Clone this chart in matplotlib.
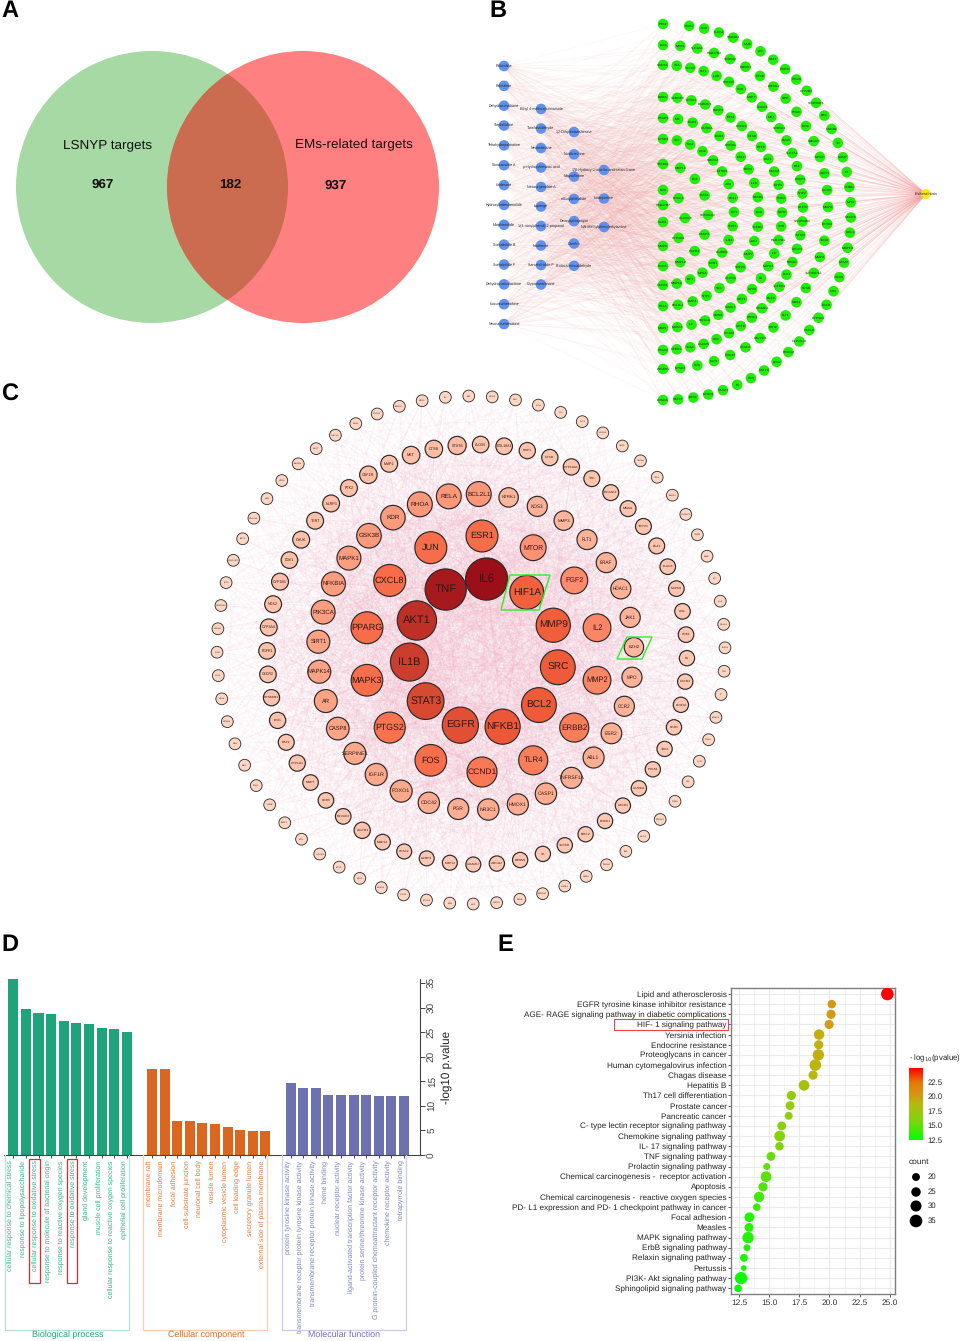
import numpy as np
import matplotlib
matplotlib.use("Agg")
import matplotlib.pyplot as plt
from matplotlib.patches import Circle, Polygon, Rectangle
from matplotlib.collections import LineCollection, PatchCollection
from matplotlib.colors import LinearSegmentedColormap
from matplotlib.transforms import ScaledTranslation

plt.rcParams['font.family'] = ['Liberation Sans', 'DejaVu Sans']
plt.rcParams['text.hinting'] = 'no_hinting'

W, H = 962, 1341

# ---------- Panel A data ----------
venn_labels = ["LSNYP targets", "EMs-related targets"]
venn_counts = [967, 182, 937]

# ---------- Panel B data ----------
compounds_1 = ["Rotundine", "Palmatine", "Dehydrocorydaline", "Stepholidine", "Tetrahydropalmatine",
               "Sinoracutine A", "Linderane", "Hydroxylindestrenolide", "Morphenolide", "Sonodiolide B",
               "Sonodiolide F", "Dehydrocostuslactone", "Isocurcumenolone", "Neocurcumenolone"]
compounds_2 = ["Ethyl 4-methoxycinnamate", "Tanshinaldehyde", "Neolinderane", "p-Hydroxybenzoic acid",
               "Neocurgenolide A", "Lupenge", "1-(4-nonylphenol)-2-propanol", "Nuciferine",
               "Sarcandrolide P", "Cryptotanshinone"]
compounds_3 = ["1,2-Dihydrotanshinone", "Nordicentrine", "Magnoflorine", "n-Butylphthalide",
               "Deoxyophiopogon", "Canthin", "Protocatechualdehyde"]
compounds_4 = ["17\u03b2-Hydroxy-2-oxa-5\u03b1-androstan-3-one", "Isoaspartine", "N,N-Methylphenylethylamine"]
targets_arcs = [
    ["PTK2", "EGR1", "PGR", "KLKB1", "HSD3B1", "MME", "AR", "RAF1", "PTAFR", "PTGIS", "CYP2B1", "SERPINE1",
     "BAX", "GSK3B", "TH", "COMT", "F3", "SHBG", "MPO", "CXCR3", "ABL1", "MMP10", "MCM2", "KRAS", "FTO",
     "EGFR", "CYP3A4", "CXCL8", "CYP2C19", "NDRG2", "LCN2", "CSF1R", "DBH", "F5", "CASP1", "CCND1", "ESR1",
     "STAT3", "EDNRA"],
    ["AAS", "MMP1", "SLC6A4", "HSD17B2", "SRD5A2", "HMOX1", "CTSB", "ABCG2", "LIPE", "CHUK", "IDO1",
     "HMGCR", "MPO2", "STAT1", "ACHE", "MMP3", "EPHX2", "TKOR", "MMP2", "TNFRSF1A", "HPSE", "NOS3", "FLT1",
     "EZH2", "HAVCR1", "VEGFA", "CDC42", "GLP1", "SRC", "HPSE2", "PTGER2"],
    ["SOCS3", "TSA", "IGF1R", "FLT1", "IL4R", "PRKCB", "KDR", "MAPT", "HDAC6", "MET", "SRD5A1", "FMAK",
     "SLC7A1", "RAF", "ERAP1", "SHP2", "SETD7", "SERPINB4", "MTOR", "APLP2", "NR4A1", "PLK1", "TGFBR1",
     "FGF3", "EIF2AK1", "NR3C1", "ACTB", "EPHA2", "LOX", "ALOX5", "TGS1", "GFBR1", "PTGS2"],
    ["RORA", "GABRB3", "EPHX1", "PGRMC1", "NLRP3", "ETS1", "CXCR1", "CTSD", "CETP", "CSF1", "CALCA",
     "GYPA", "CDK2", "ESR2", "VDR", "HSD17B1", "IL6", "MAPK1", "F8", "GPX8", "SIRT1", "HDAC7", "LMNA",
     "PIK3CA", "IL2", "MAPK3", "MMP1"],
    ["PTGES", "MIF", "EGR2", "AURKA", "EGR3", "PPARG", "CSF2", "ESR3", "IL1B", "NFKB1", "CCK", "TGFB1",
     "JAK1", "MMP7", "TOP2A", "ALDH1", "SYK", "SHP1", "BMP4", "BCL2L1", "RELA"],
    ["HPSE3", "TNF", "TYK2", "ADA", "HMOX2", "MTNR1", "JUN", "BCL2", "IGF1", "CHIT1", "TLR4", "AURKB",
     "CCR1", "MPSA", "IRF1", "MMP13", "CXCR4"],
    ["NFKBIA", "MMP14", "EGF", "IRAK1", "PPARGC1", "CASP3", "EGFR4", "MMP12", "RHOA"],
    ["FOS", "HDAC3", "ALOX15", "CYP3A5", "MMP9"],
    ["HSD17B7", "TGM2"],
]
disease = "Endometriosis"

# ---------- Panel C data (names clockwise from the top, with estimated degree) ----------
ring1 = ["IL6", "HIF1A", "MMP9", "SRC", "BCL2", "NFKB1", "EGFR", "STAT3", "IL1B", "AKT1", "TNF"]
deg1 = [113, 87, 88, 90, 90, 91, 94, 96, 100, 104, 110]
ring2 = ["ESR1", "MTOR", "FGF2", "IL2", "MMP2", "ERBB2", "TLR4", "CCND1", "FOS", "PTGS2", "MAPK3", "PPARG",
         "CXCL8", "JUN"]
deg2 = [81, 62, 65, 68, 68, 72, 72, 75, 80, 78, 80, 81, 81, 81]
ring3 = ["BCL2L1", "NTRK1", "NOS3", "MMP3", "FLT1", "BRAF", "HDAC1", "JAK1", "EZH2", "MPO", "CCR2", "ESR2",
         "ABL1", "TNFRSF1A", "CASP1", "HMOX1", "NR3C1", "PGR", "CDC42", "FOXO1", "IGF1R", "SERPINE1", "CASP8",
         "AR", "MAPK14", "SIRT1", "PIK3CA", "NFKBIA", "MAPK1", "GSK3B", "KDR", "RHOA", "RELA"]
deg3 = [59, 42, 44, 42, 44, 44, 44, 44, 42, 44, 44, 46, 47, 47, 48, 47, 48, 47, 48, 50, 50, 50, 52, 53, 53, 53,
        56, 56, 56, 58, 58, 59, 59]
ring4 = ["ALOX5", "COL18A1", "NRP1", "CTSD", "CYP19A1", "TEK", "EIF2AK4", "MMAA", "TRPV1", "FGF1", "ELANE",
         "MAPK8", "ASL", "CD69", "F3", "CXCR3", "KDM1A", "CCR1", "TRK2", "PTGS1", "AURKA", "CXCR1", "ROCK1",
         "BIRC2", "TGFBR", "TH", "OPRM1", "ABCG2", "ADAM17", "MMP14", "IGFBP3", "HDAC2", "MMP12", "AGTR1",
         "EIF2AK3", "CCR5", "MMP7", "CYP1A1", "RAF1", "IDO1", "RPS6KB1", "CXCR2", "FGFR1", "CYP3A4", "NOS2",
         "CYP1B1", "CDK1", "CHUK", "TERT", "NLRP3", "PTK2", "CSF1R", "MMP1", "MET", "CTSB", "STAT6"]
deg4 = [33, 33, 32, 32, 32, 31, 31, 31, 31, 31, 30, 30, 30, 30, 29, 29, 29, 29, 29, 29, 29, 29, 29, 29, 29, 29,
        29, 29, 28, 28, 28, 28, 30, 32, 30, 30, 30, 32, 31, 32, 32, 33, 33, 34, 34, 34, 33, 34, 34, 34, 34, 36,
        34, 36, 36, 38]
ring5 = ["MIF", "COMT", "SYK", "ADA", "LPL", "AGT", "HPGDS", "IL1R1", "GSK3A", "CTSL", "ERAP1", "AKR1C3", "ICAM1",
         "MME", "KIT", "ALK", "NR1H3", "LTA4H", "TTR", "TF", "KDM5A", "TGM2", "ALT1", "F10", "TYMS", "NFE2L2",
         "MAOA", "FN1", "FBXW7", "MMP8", "LAMB1", "SRD5A2", "RXRA", "HSPA5", "HIF1", "CFB", "SOCS1", "ARG1",
         "CCNA2", "CDK2", "SOX2", "ACKR3", "HCK", "BIRC5", "CYBB", "ETS2", "BAX", "DBH", "CCNB1", "CDK4",
         "GYS1", "ADK", "HSD3B", "HSD11B1", "FLT4", "HSD17B3", "SRT1", "CDC25A", "HAR", "CCR8", "SMAD3", "MAPT",
         "ABCC1", "CNR1", "SOCS3", "PRKCD", "DRD2", "F2"]
deg5 = [18] * len(ring5)
green_boxes = ["HIF1A", "EZH2"]

# ---------- Panel D data ----------
bp_terms = ["cellular response to chemical stress", "response to lipopolysaccharide",
            "cellular response to oxidative stress", "response to molecule of bacterial origin",
            "response to reactive oxygen species", "response to oxidative stress", "gland development",
            "muscle cell proliferation", "cellular response to reactive oxygen species",
            "epithelial cell proliferation"]
bp_vals = [35.7, 29.6, 28.8, 28.7, 27.3, 26.9, 26.7, 25.9, 25.7, 25.0]
cc_terms = ["membrane raft", "membrane microdomain", "focal adhesion", "cell-substrate junction",
            "neuronal cell body", "vesicle lumen", "cytoplasmic vesicle lumen", "cell leading edge",
            "secretory granule lumen", "external side of plasma membrane"]
cc_vals = [17.5, 17.4, 7.0, 6.85, 6.6, 6.3, 5.6, 5.0, 4.95, 4.9]
mf_terms = ["protein tyrosine kinase activity", "transmembrane receptor protein tyrosine kinase activity",
            "transmembrane receptor protein kinase activity", "heme binding", "nuclear receptor activity",
            "ligand-activated transcription factor activity", "protein serine/threonine kinase activity",
            "G protein-coupled chemoattractant receptor activity", "chemokine receptor activity",
            "tetrapyrrole binding"]
mf_vals = [14.7, 13.7, 13.6, 12.3, 12.15, 12.15, 12.15, 11.9, 11.9, 11.9]
d_ticks = [0, 5, 10, 15, 20, 25, 30, 35]
group_names = ["Biological process", "Cellular component", "Molecular function"]

# ---------- Panel E data ----------
kegg_terms = ["Lipid and atherosclerosis", "EGFR tyrosine kinase inhibitor resistance",
              "AGE- RAGE signaling pathway in diabetic complications", "HIF- 1 signaling pathway",
              "Yersinia infection", "Endocrine resistance", "Proteoglycans in cancer",
              "Human cytomegalovirus infection", "Chagas disease", "Hepatitis B", "Th17 cell differentiation",
              "Prostate cancer", "Pancreatic cancer", "C- type lectin receptor signaling pathway",
              "Chemokine signaling pathway", "IL- 17 signaling pathway", "TNF signaling pathway",
              "Prolactin signaling pathway", "Chemical carcinogenesis -  receptor activation", "Apoptosis",
              "Chemical carcinogenesis -  reactive oxygen species",
              "PD- L1 expression and PD- 1 checkpoint pathway in cancer", "Focal adhesion", "Measles",
              "MAPK signaling pathway", "ErbB signaling pathway", "Relaxin signaling pathway", "Pertussis",
              "PI3K- Akt signaling pathway", "Sphingolipid signaling pathway"]
kegg_log = [24.8, 20.19, 20.13, 19.97, 19.14, 19.11, 19.08, 18.83, 18.64, 17.89, 16.84, 16.73, 16.62, 16.04, 15.87,
            15.85, 15.15, 14.8, 14.74, 14.49, 14.16, 13.97, 13.36, 13.33, 13.25, 13.16, 12.91, 12.89, 12.67, 12.42]
kegg_count = [35, 22, 24, 24, 28, 24, 31, 32, 24, 29, 24, 23, 20, 23, 29, 22, 23, 17, 29, 24, 28, 19, 26, 23, 31,
              17, 20, 13, 34, 19]
e_xticks = [12.5, 15.0, 17.5, 20.0, 22.5, 25.0]
cbar_ticks = [12.5, 15.0, 17.5, 20.0, 22.5]
count_legend = [20, 25, 30, 35]


def px_axes(fig, left, top, right, bottom, **kw):
    return fig.add_axes([left / W, 1 - bottom / H, (right - left) / W, (bottom - top) / H], **kw)


fig = plt.figure(figsize=(W / 100, H / 100), dpi=100, facecolor='white')

# ==================== Panel D ====================
GREEN, ORANGE, PURPLE = '#1ea37a', '#da6620', '#6d71b0'
axd = px_axes(fig, 4, 979, 420, 1155)
axd.patch.set_alpha(0)
pos = [np.arange(10), np.arange(10) + 11, np.arange(10) + 22]
all_pos, all_lab, all_col = [], [], []
for p, v, t, c in zip(pos, [bp_vals, cc_vals, mf_vals], [bp_terms, cc_terms, mf_terms], [GREEN, ORANGE, PURPLE]):
    axd.bar(p, v, width=0.8, color=c)
    all_pos += list(p)
    all_lab += t
    all_col += [c] * 10
axd.yaxis.tick_right()
axd.yaxis.set_label_position('right')
axd.set_yticks(d_ticks)
axd.set_yticklabels([str(t) for t in d_ticks], rotation=90, va='center', fontsize=7.2, color='#444444')
axd.set_xticks(all_pos)
axd.set_xticklabels(all_lab, rotation=90, fontsize=5.0, ha='center', va='top')
axd.set_xlim(-0.74, 32.27)
axd.set_ylim(0, 35.8)
axd.tick_params(axis='x', length=2.5, width=0.7, color='#444444', pad=1.5)
axd.tick_params(axis='y', length=3.5, width=0.7, color='#444444', pad=2)
off = ScaledTranslation(-3.3 / 100, 0, fig.dpi_scale_trans)
for lbl, c in zip(axd.get_xticklabels(), all_col):
    lbl.set_color(c)
    lbl.set_alpha(0.88)
    lbl.set_transform(lbl.get_transform() + off)
for s in ['top', 'left']:
    axd.spines[s].set_visible(False)
for s in ['right', 'bottom']:
    axd.spines[s].set_color('#444444')
    axd.spines[s].set_linewidth(0.8)
axd.set_ylabel('-log10 p.value', fontsize=8.4, color='#222222', rotation=90, labelpad=3.5)

# ==================== Panel E ====================
dot_cmap = LinearSegmentedColormap.from_list(
    'gr', [(0, '#00ff00'), (0.25, '#7cd60c'), (0.5, '#b8b80e'), (0.62, '#d49a12'), (0.8, '#e87808'), (1, '#ff0000')])
E_MIN, E_MAX = 12.42, 24.86


def dot_area(c):
    d_px = 1.08 * (7.3 + (np.asarray(c, float) - 20) * 0.293)
    return (d_px * 0.72) ** 2


axe = px_axes(fig, 731.3, 987.7, 894.7, 1294.3)
ypos = np.arange(len(kegg_terms))
axe.set_axisbelow(True)
axe.scatter(kegg_log, ypos, s=dot_area(kegg_count), c=kegg_log, cmap=dot_cmap, vmin=E_MIN, vmax=E_MAX,
            linewidths=0, zorder=3)
axe.set_yticks(ypos)
axe.set_yticklabels(kegg_terms, fontsize=5.9, color='#222222')
axe.set_xticks(e_xticks)
axe.set_xticklabels([f'{t:.1f}' for t in e_xticks], fontsize=6.0, color='#333333')
axe.set_xticks(np.array(e_xticks) + 1.25, minor=True)
axe.set_xlim(11.86, 25.41)
axe.set_ylim(29.59, -0.62)
axe.grid(True, which='major', color='#ebebeb', lw=0.8)
axe.grid(True, which='minor', axis='x', color='#f2f2f2', lw=0.5)
axe.tick_params(axis='both', which='major', length=2.2, width=0.6, color='#444444', pad=1.3)
axe.tick_params(axis='x', which='minor', length=0)
for s in axe.spines.values():
    s.set_color('#7f7f7f')
    s.set_linewidth(1.0)

cax = px_axes(fig, 909, 1068, 923, 1140)
grad = np.linspace(E_MAX, E_MIN, 200).reshape(-1, 1)
cax.imshow(grad, aspect='auto', cmap=dot_cmap, vmin=E_MIN, vmax=E_MAX, extent=[0, 1, E_MIN, E_MAX])
cax.set_xticks([])
cax.yaxis.tick_right()
cax.set_yticks(cbar_ticks)
cax.set_yticklabels([f'{t:.1f}' for t in cbar_ticks], fontsize=5.6, color='#222222')
cax.tick_params(axis='y', length=0, pad=3)
for s in cax.spines.values():
    s.set_visible(False)

# ==================== overlay in pixel coordinates: A, B, C and annotations ====================
ax = fig.add_axes([0, 0, 1, 1], zorder=5)
ax.set_xlim(0, W)
ax.set_ylim(H, 0)
ax.axis('off')
ax.patch.set_alpha(0)

for letter, x, y in [('A', 1, 11), ('B', 489, 11), ('C', 1, 395), ('D', 1, 945), ('E', 497, 945)]:
    ax.text(x, y, letter, fontsize=17, fontweight='bold', ha='left', va='center', color='black')

# ---- Panel A ----
c_g = Circle((152, 187), 136, fc='#a6d9a3', ec='none')
c_r = Circle((303, 187), 136, fc='#ff8080', ec='none')
ax.add_patch(c_g)
ax.add_patch(c_r)
c_o = Circle((152, 187), 136, fc='#cb6b50', ec='none')
ax.add_patch(c_o)
c_o.set_clip_path(Circle((303, 187), 136, transform=ax.transData))
ax.text(108, 145, venn_labels[0], fontsize=9.7, ha='center', va='center', color='#111111')
ax.text(354, 145, venn_labels[1], fontsize=9.7, ha='center', va='center', color='#111111')
for x, v in zip([103, 230, 336], venn_counts):
    ax.text(x, 185, str(v), fontsize=9.6, fontweight='bold', ha='center', va='center', color='#111111')

# ---- Panel B ----
col_x = [504, 541, 574, 604]
col_y0 = [66, 109, 132, 170]
col_step = [19.85, 19.5, 22.3, 28.5]
comp_xy, comp_names = [], []
for names, x, y0, st in zip([compounds_1, compounds_2, compounds_3, compounds_4], col_x, col_y0, col_step):
    for i, n in enumerate(names):
        comp_xy.append((x, y0 + i * st))
        comp_names.append(n)
# concentric half ellipses: top, bottom, right extreme of each arc
arc_geom = [(24, 400, 851), (45, 369, 828), (65, 350, 803), (97, 328, 782), (118, 306, 759),
            (139, 285, 734), (164, 266, 708), (190, 246, 685), (205, 222, 663)]
targ_xy, targ_names = [], []
for names, (top, bot, right) in zip(targets_arcs, arc_geom):
    cy, ry, rx = (top + bot) / 2, (bot - top) / 2, right - 663
    n = len(names)
    if names is targets_arcs[0]:
        ang = np.r_[-90, np.linspace(-82, 90, n - 1)]
    else:
        ang = np.linspace(-90, 90, n)
    for a, nm in zip(np.radians(ang), names):
        targ_xy.append((663 + rx * np.cos(a), cy + ry * np.sin(a)))
        targ_names.append(nm)
dis_xy = (926, 194)
segs = []
for ci, c in enumerate(comp_xy):
    for ti, t in enumerate(targ_xy):
        if (ci * 13 + ti * 7) % 5 == 0:
            segs.append([c, t])
ax.add_collection(LineCollection(segs, colors='#f4a0a0', linewidths=0.35, alpha=0.13, zorder=1))
ax.add_collection(LineCollection([[t, dis_xy] for t in targ_xy], colors='#f4a0a0', linewidths=0.4, alpha=0.22,
                                 zorder=1))
ax.add_collection(PatchCollection([Circle(p, 5.3) for p in comp_xy], facecolor='#5f92ee', edgecolor='none', zorder=2))
ax.add_collection(PatchCollection([Circle(p, 5.3) for p in targ_xy], facecolor='#1fee05', edgecolor='none', zorder=2))
ax.add_patch(Circle(dis_xy, 5, fc='#ffe81a', ec='none', zorder=2))
for p, n in zip(comp_xy, comp_names):
    ax.text(p[0], p[1], n, fontsize=2.6, ha='center', va='center', color='#222222', zorder=3)
for p, n in zip(targ_xy, targ_names):
    ax.text(p[0], p[1], n, fontsize=2.4, ha='center', va='center', color='#222222', zorder=3)
ax.text(dis_xy[0], dis_xy[1], disease, fontsize=2.6, ha='center', va='center', color='#222222', zorder=3)

# ---- Panel C ----
rings = [
    (ring1, deg1, (484, 654), 75, -88),
    (ring2, deg2, (482, 654), 118, -90),
    (ring3, deg3, (476, 652), 158, -89),
    (ring4, deg4, (477, 654.5), 210, -89),
    (ring5, deg5, (471, 650), 254, -90.5),
]
node_cmap = LinearSegmentedColormap.from_list(
    'deg', [(0, '#fdd5c3'), (0.25, '#fdb69b'), (0.42, '#fc9a7c'), (0.62, '#fb7450'), (0.76, '#ef5a38'),
            (0.84, '#d24530'), (0.92, '#b92a25'), (1, '#9a0f18')])
DEG_MIN, DEG_MAX = 18, 113
cx_xy, cx_deg, cx_name = [], [], []
for names, degs, (cx, cy), r, start in rings:
    n = len(names)
    for i, (nm, d) in enumerate(zip(names, degs)):
        a = np.radians(start + 360 * i / n)
        cx_xy.append((cx + r * np.cos(a), cy + r * np.sin(a)))
        cx_deg.append(d)
        cx_name.append(nm)
cx_xy = np.array(cx_xy)
cx_deg = np.array(cx_deg, float)
cx_r = 3 + 0.16 * cx_deg
segs = []
for i in range(len(cx_xy)):
    for j in range(i + 1, len(cx_xy)):
        if (i * 37 + j * 61) % 100 < min(100, cx_deg[i] * cx_deg[j] / 65):
            segs.append([cx_xy[i], cx_xy[j]])
ax.add_collection(LineCollection(segs, colors='#f58fb0', linewidths=0.5, alpha=0.07, zorder=1))
for (x, y), r, d, nm in zip(cx_xy, cx_r, cx_deg, cx_name):
    col = node_cmap((d - DEG_MIN) / (DEG_MAX - DEG_MIN))
    ax.add_patch(Circle((x, y), r, fc=col, ec='#2a2a2a', lw=0.6 if r < 7 else 0.85, zorder=3))
    fs = np.interp(r, [6, 9, 12, 17, 21], [1.7, 2.8, 4.4, 7.2, 8.4])
    ax.text(x, y, nm, fontsize=fs, ha='center', va='center', color='#2a1a18', zorder=4)
ax.add_patch(Polygon([(510, 575), (550, 575), (539, 610), (501, 610)], closed=True, fc='none', ec='#2bee2b', lw=1,
                     zorder=5))
ax.add_patch(Polygon([(627, 637), (652, 637), (642, 659), (617, 659)], closed=True, fc='none', ec='#2bee2b', lw=1,
                     zorder=5))

# ---- Panel D annotations ----
for (l, r), c in zip([(5, 129), (143, 267), (282, 406)], ['#b6e2d5', '#f8cdb2', '#ccccE6']):
    ax.plot([l, l, r, r], [1155, 1330, 1330, 1155], color=c, lw=0.9, zorder=1)
for name, tx, c in zip(group_names, [68, 206, 344], [GREEN, ORANGE, PURPLE]):
    ax.text(tx, 1334.5, name, fontsize=6.4, ha='center', va='center', color=c)
for l in [29.3, 67]:
    ax.add_patch(Rectangle((l, 1159), 10.4, 124, fc='none', ec='#e8262a', lw=0.9))

# ---- Panel E annotations ----
ax.add_patch(Rectangle((614.3, 1019.3), 113.7, 10.7, fc='none', ec='#ee4444', lw=0.8))
ax.text(909, 1058, r'- log$_{10}$(pvalue)', fontsize=5.6, ha='left', va='center', color='#222222',
        math_fontfamily='dejavusans')
ax.text(909, 1162, 'count', fontsize=6, ha='left', va='center', color='#222222')
leg_y = [1177, 1192, 1206, 1221]
ax.scatter([916] * 4, leg_y, s=dot_area(count_legend), c='black', linewidths=0)
for c, y in zip(count_legend, leg_y):
    ax.text(927.5, y, str(c), fontsize=5.6, ha='left', va='center', color='#222222')

fig.savefig('out.png', dpi=100)
